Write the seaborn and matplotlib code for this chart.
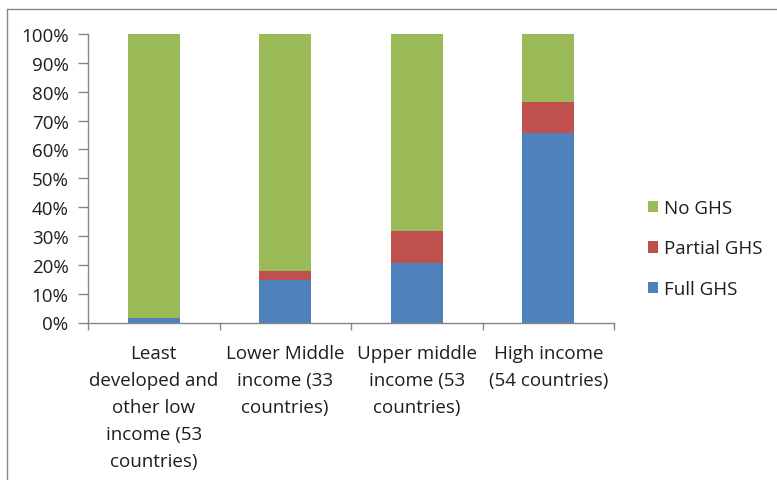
import matplotlib
matplotlib.use("Agg")
import matplotlib.pyplot as plt
from matplotlib.lines import Line2D
from matplotlib.patches import Patch
from matplotlib.ticker import PercentFormatter, FixedLocator
import pandas as pd
import seaborn as sns

# values (percent of countries)
groups = [
    "Least\ndeveloped and\nother low\nincome (53\ncountries)",
    "Lower Middle\nincome (33\ncountries)",
    "Upper middle\nincome (53\ncountries)",
    "High income\n(54 countries)",
]
full_ghs = [1.5, 14.7, 20.5, 65.6]
partial_ghs = [0.0, 3.3, 11.3, 10.9]
no_ghs = [98.5, 82.0, 68.2, 23.5]

colors = {"No GHS": "#9BBB59", "Partial GHS": "#C0504D", "Full GHS": "#4F81BD"}

df = pd.DataFrame({"group": groups, "full": full_ghs,
                   "partial": partial_ghs, "no": no_ghs})
df["top_partial"] = df["full"] + df["partial"]
df["top_no"] = df["top_partial"] + df["no"]

sns.set_style("white")
plt.rcParams["font.family"] = ["Open Sans", "DejaVu Sans"]
text_color = "#1e1e1e"
axis_color = "#868686"
fs = 13.5

fig = plt.figure(figsize=(7.77, 4.81), dpi=100)
ax = fig.add_axes([88 / 777, 1 - 323.5 / 481, (614 - 88) / 777, (323.5 - 35) / 481])

# stack by drawing cumulative totals over each other
for col, key in [("top_no", "No GHS"), ("top_partial", "Partial GHS"), ("full", "Full GHS")]:
    sns.barplot(data=df, x="group", y=col, color=colors[key],
                width=0.395, saturation=1, linewidth=0, ax=ax)

ax.set_ylim(0, 100)
ax.set_xlim(-0.5, len(groups) - 0.5)
ax.set_yticks(range(0, 101, 10))
ax.yaxis.set_major_formatter(PercentFormatter(decimals=0))
ax.set_xlabel("")
ax.set_ylabel("")

for s in ["top", "right"]:
    ax.spines[s].set_visible(False)
for s in ["left", "bottom"]:
    ax.spines[s].set_color(axis_color)
    ax.spines[s].set_linewidth(1)

ax.tick_params(axis="y", direction="out", length=7, width=1, color=axis_color,
               labelsize=fs, labelcolor=text_color, pad=7, left=True)
ax.tick_params(axis="x", which="major", length=0, labelsize=fs,
               labelcolor=text_color, pad=15.5)
ax.xaxis.set_minor_locator(FixedLocator([i - 0.5 for i in range(len(groups) + 1)]))
ax.tick_params(axis="x", which="minor", direction="out", length=5, width=1,
               color=axis_color, bottom=True)
for lbl in ax.get_xticklabels():
    lbl.set_linespacing(1.64)

handles = [Patch(facecolor=colors[k], edgecolor="none") for k in ["No GHS", "Partial GHS", "Full GHS"]]
fig.legend(handles, ["No GHS", "Partial GHS", "Full GHS"], loc="center left",
           bbox_to_anchor=(648 / 777, 1 - 249.5 / 481), frameon=False,
           fontsize=fs, labelcolor=text_color, handlelength=0.55, handleheight=0.55,
           handletextpad=0.3, labelspacing=1.2, borderpad=0, borderaxespad=0)

# outer chart border (cropped on right and bottom in the reference)
fig.add_artist(Line2D([7 / 777, 1], [1 - 10 / 481] * 2, color=axis_color, lw=1))
fig.add_artist(Line2D([7 / 777] * 2, [0, 1 - 10 / 481], color=axis_color, lw=1))

fig.savefig("out.png", dpi=100)
